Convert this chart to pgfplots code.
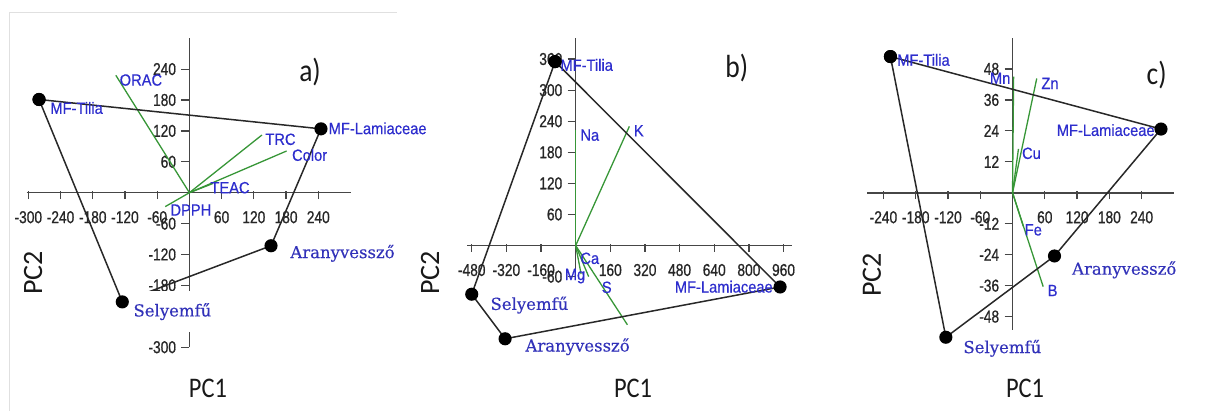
\documentclass[border=0pt]{standalone}
\usepackage{pgfplots}
\pgfplotsset{compat=1.18}
\usepackage{fontspec}
\newfontfamily\tickfont[FakeStretch=0.8,FakeBold=0.8]{Liberation Sans}
\newfontfamily\lblfont[FakeStretch=0.9,FakeBold=0.5]{Liberation Sans}
\newfontfamily\serlab[FakeBold=0.3]{DejaVu Serif}
\newfontfamily\calfont[FakeStretch=0.86]{Carlito}
\newfontfamily\calrot{Carlito}
\definecolor{lblblue}{RGB}{45,45,205}
\definecolor{serblue}{RGB}{50,50,185}
\definecolor{ldgreen}{RGB}{55,150,55}
\definecolor{hullc}{RGB}{40,40,40}
\definecolor{axc}{RGB}{70,70,70}
\pgfplotsset{
  pca/.style={scale only axis, anchor=south west, axis lines=center,
    axis line style={-, axc, line width=0.75pt}, clip=false,
    tick align=center, major tick length=4pt,
    xtick style={axc, line width=0.6pt, yshift=-1.2pt},
    ytick style={axc, line width=0.6pt, xshift=-2pt},
    xticklabel style={font=\tickfont\fontsize{8.6}{9}\selectfont, text=black!85, anchor=north, inner sep=0pt, yshift=-7pt},
    yticklabel style={font=\tickfont\fontsize{8.6}{9}\selectfont, text=black!85, anchor=east, inner sep=0pt, xshift=-4.5pt},
    xlabel={}, ylabel={}},
  ld/.style={ldgreen, line width=0.65pt, mark=none},
  hull/.style={hullc, line width=0.75pt, mark=*, mark size=2.9pt, mark options={fill=black, draw=black}},
}
\tikzset{
  lbl/.style={font=\lblfont\fontsize{8.15}{9}\selectfont, text=lblblue, inner sep=0pt},
  ser/.style={font=\serlab\fontsize{8.25}{10}\selectfont, text=serblue, inner sep=0pt},
  pclab/.style={font=\calfont\fontsize{14.2}{16}\selectfont, text=black!90},
  pcrot/.style={font=\calrot\fontsize{14}{16}\selectfont, text=black!90, rotate=90},
  panlab/.style={font=\calfont\fontsize{16}{18}\selectfont, text=black!90},
}
\begin{document}
\begin{tikzpicture}
\path[use as bounding box] (0,0) rectangle (604.5pt,-205.5pt);
\draw[black!12, line width=0.6pt] (4.65pt,-205.5pt) -- (4.65pt,-6.15pt) -- (198.5pt,-6.15pt);

% ---------------- panel a ----------------
\begin{axis}[pca, at={(13.35pt,-173.6pt)}, width=161.9pt, height=154.5pt,
  xmin=-303, xmax=300, ymin=-300, ymax=300,
  xtick={-300,-240,-180,-120,-60,60,120,180,240},
  xticklabels={-300,-240,-180,-120,-60,60,120,180,240},
  ytick={-300,-240,-180,-120,-60,60,120,180,240},
  yticklabels={-300,-240,-180,-120,-60,60,120,180,240}]
\addplot[ld] coordinates {(0,0) (-137,228)};
\addplot[ld] coordinates {(0,0) (135,112)};
\addplot[ld] coordinates {(0,0) (181,81)};
\addplot[ld] coordinates {(0,0) (44,18)};
\addplot[ld] coordinates {(0,0) (-45,-27)};
\addplot[hull] coordinates {(-280,181) (245,124) (152,-103) (-125,-212) (-280,181)};
\node[lbl,anchor=west] at (axis cs:-259.6,164.5) {MF-Tilia};
\node[lbl,anchor=west] at (axis cs:258.7,125) {MF-Lamiaceae};
\node[lbl,anchor=west] at (axis cs:-130.5,218.8) {ORAC};
\node[lbl,anchor=west] at (axis cs:140.8,103.7) {TRC};
\node[lbl,anchor=west] at (axis cs:190.5,73.2) {Color};
\node[lbl,anchor=west] at (axis cs:38.4,9.7) {TEAC};
\node[lbl,anchor=west] at (axis cs:-36,-33.6) {DPPH};
\node[ser,anchor=west] at (axis cs:187.3,-117.7) {Aranyvessző};
\node[ser,anchor=west,fill=white,inner xsep=3pt,inner ysep=6.2pt] at (axis cs:-116,-231) {Selyemfű};
\node[pclab] at (axis cs:34.6,-379) {PC1};
\node[pcrot] at (axis cs:-291,-156) {PC2};
\node[panlab] at (axis cs:224.6,234.4) {a)};
\end{axis}

% ---------------- panel b ----------------
\begin{axis}[pca, at={(233.7pt,-139.6pt)}, width=162.4pt, height=120.45pt,
  xmin=-500, xmax=1000, ymin=-65, ymax=400,
  xtick={-480,-320,-160,160,320,480,640,800,960},
  xticklabels={-480,-320,-160,160,320,480,640,800,960},
  ytick={-60,60,120,180,240,300,360},
  yticklabels={-60,60,120,180,240,300,360}]
\addplot[ld] coordinates {(0,0) (0,223)};
\addplot[ld] coordinates {(0,0) (248,230)};
\addplot[ld] coordinates {(0,0) (60,-60)};
\addplot[ld] coordinates {(0,0) (25,-55)};
\addplot[ld] coordinates {(0,0) (239,-153)};
\addplot[hull] coordinates {(-95,355) (944,-80) (-326,-180) (-480,-94) (-95,355)};
\node[lbl,anchor=west] at (axis cs:-72,348.5) {MF-Tilia};
\node[lbl,anchor=east] at (axis cs:911.8,-79.5) {MF-Lamiaceae};
\node[lbl,anchor=west] at (axis cs:20,213) {Na};
\node[lbl,anchor=west] at (axis cs:267,221.6) {K};
\node[lbl,anchor=west] at (axis cs:20,-24.7) {Ca};
\node[lbl] at (axis cs:-3,-59) {Mg};
\node[lbl] at (axis cs:143.6,-80.7) {S};
\node[ser,anchor=west] at (axis cs:-395,-115) {Selyemfű};
\node[ser,anchor=west] at (axis cs:-233.7,-195.4) {Aranyvessző};
\node[pclab] at (axis cs:265,-275) {PC1};
\node[pcrot] at (axis cs:-672.5,-53) {PC2};
\node[panlab] at (axis cs:744,342) {b)};
\end{axis}

% ---------------- panel c ----------------
\begin{axis}[pca, at={(433.65pt,-164.75pt)}, width=153.3pt, height=145.75pt,
  xmin=-270, xmax=300, ymin=-53, ymax=60,
  xtick={-240,-180,-120,-60,60,120,180,240},
  xticklabels={-240,-180,-120,-60,60,120,180,240},
  ytick={-48,-36,-24,-12,12,24,36,48},
  yticklabels={-48,-36,-24,-12,12,24,36,48}]
\addplot[ld] coordinates {(0,0) (2,45)};
\addplot[ld] coordinates {(0,0) (45,44.3)};
\addplot[ld] coordinates {(0,0) (11,17)};
\addplot[ld] coordinates {(0,0) (20,-13)};
\addplot[ld] coordinates {(0,0) (57,-36.4)};
\addplot[hull] coordinates {(-227,52.8) (276,24.7) (78,-24.5) (-124,-56) (-227,52.8)};
\node[lbl,anchor=west] at (axis cs:-215,51.5) {MF-Tilia};
\node[lbl,anchor=east] at (axis cs:264.9,24.3) {MF-Lamiaceae};
\node[lbl] at (axis cs:-23,44.4) {Mn};
\node[lbl,anchor=west] at (axis cs:53,42.4) {Zn};
\node[lbl,anchor=west] at (axis cs:17,15.3) {Cu};
\node[lbl,anchor=west] at (axis cs:22,-14.4) {Fe};
\node[lbl,anchor=west] at (axis cs:64.7,-37.9) {B};
\node[ser,anchor=west] at (axis cs:110,-29.9) {Aranyvessző};
\node[ser,anchor=west] at (axis cs:-92,-60.3) {Selyemfű};
\node[pclab] at (axis cs:23.2,-75.7) {PC1};
\node[pcrot] at (axis cs:-261.7,-31.9) {PC2};
\node[panlab] at (axis cs:268,45.7) {c)};
\end{axis}
\end{tikzpicture}
\end{document}
